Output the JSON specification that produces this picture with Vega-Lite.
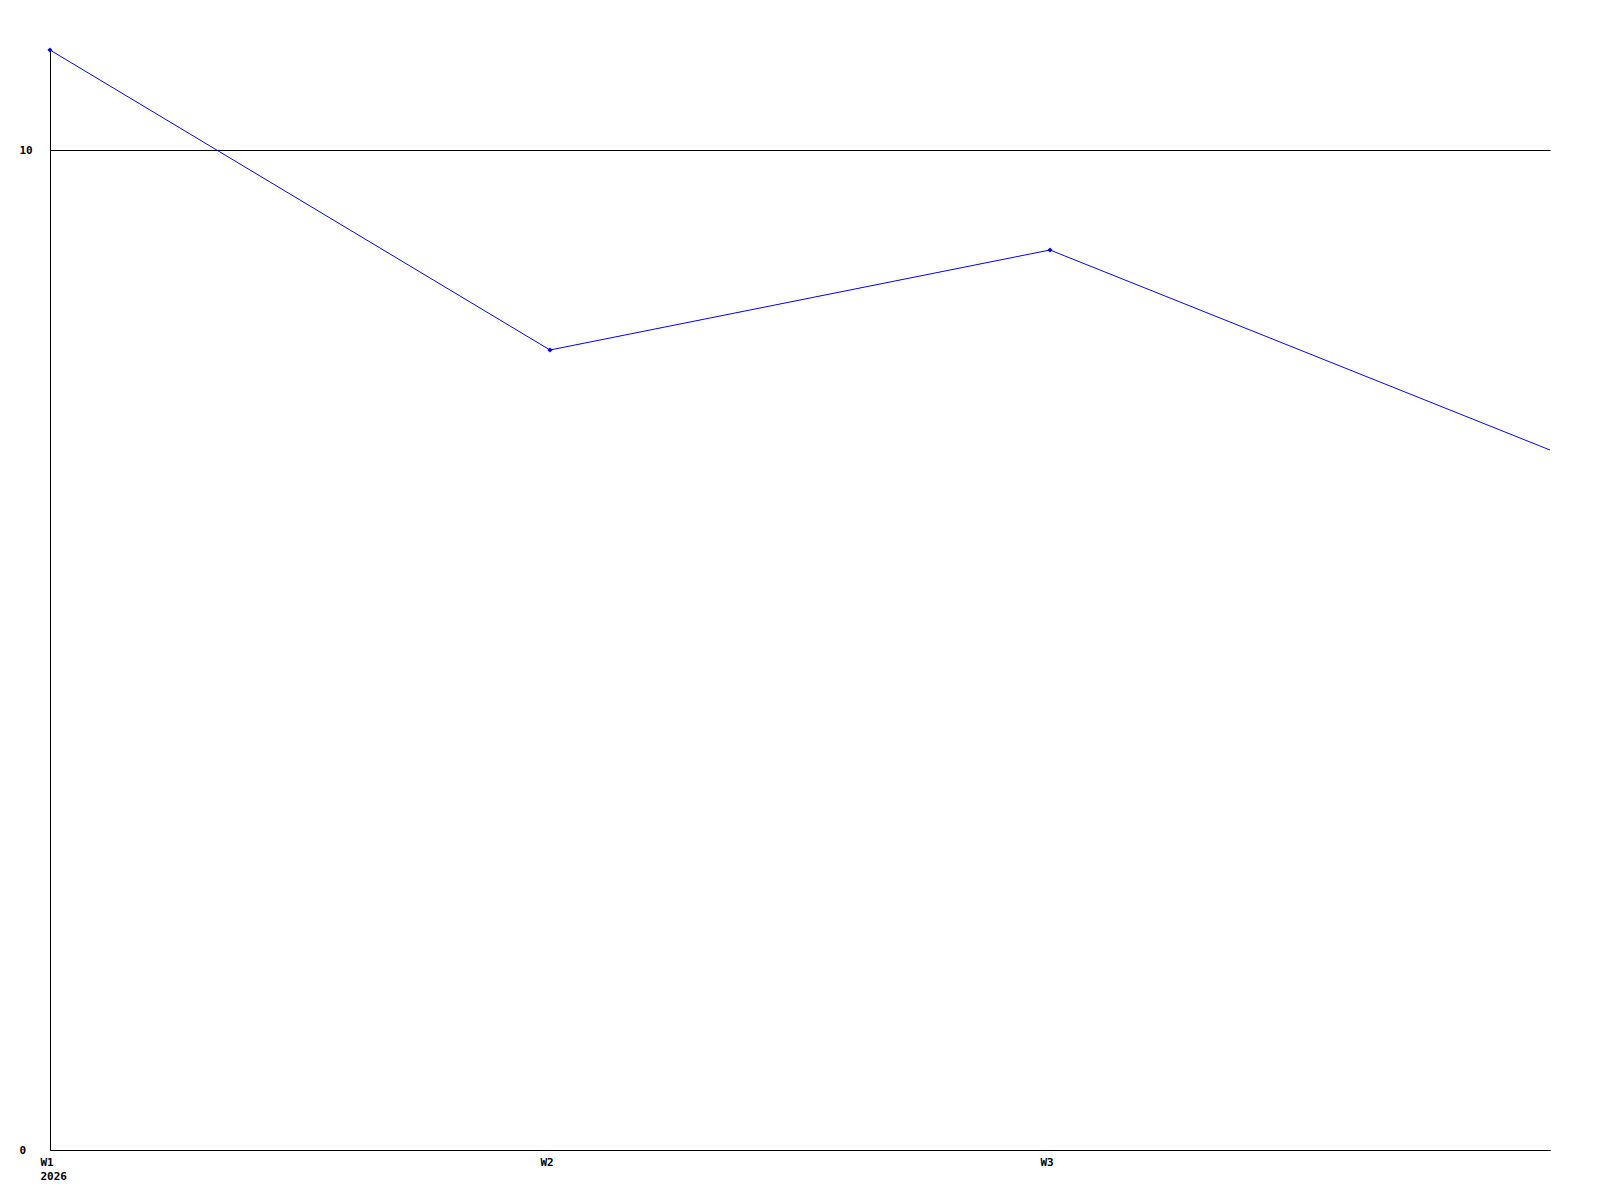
{
  "$schema": "https://vega.github.io/schema/vega-lite/v6.json",
  "width": 1500,
  "height": 1100,
  "autosize": {"type": "none"},
  "padding": {"left": 50, "top": 50, "right": 50, "bottom": 50},
  "background": "white",
  "config": {
    "view": {"stroke": null},
    "axis": {"labelFont": "DejaVu Sans Mono", "labelFontWeight": "bold", "labelFontSize": 11, "labelColor": "black", "domainColor": "black", "domainWidth": 1, "ticks": false, "tickSize": 0, "title": null}
  },
  "data": {"values": [
    {"week": 1, "value": 11},
    {"week": 2, "value": 8},
    {"week": 3, "value": 9},
    {"week": 4, "value": 7}
  ]},
  "encoding": {
    "x": {"field": "week", "type": "quantitative", "scale": {"domain": [1, 4], "nice": false, "zero": false},
      "axis": {"values": [1, 2, 3], "grid": false, "labelAlign": "left", "labelBaseline": "top", "labelPadding": 6, "labelOffset": -10, "labelLineHeight": 14, "labelFlush": false, "labelOverlap": false,
        "labelExpr": "datum.value == 1 ? ['W' + datum.value, '2026'] : 'W' + datum.value"}},
    "y": {"field": "value", "type": "quantitative", "scale": {"domain": [0, 11], "nice": false},
      "axis": {"values": [0, 10], "grid": true, "gridColor": "black", "gridWidth": 1, "gridOpacity": 1, "labelAlign": "left", "labelPadding": 31, "labelBaseline": "middle", "labelFlush": false, "labelOverlap": false}}
  },
  "layer": [
    {"mark": {"type": "line", "color": "#0000ff", "strokeWidth": 1}},
    {"transform": [{"filter": "datum.week < 4"}],
     "mark": {"type": "point", "shape": "diamond", "filled": true, "color": "#0000ff", "size": 26, "opacity": 1}}
  ]
}
